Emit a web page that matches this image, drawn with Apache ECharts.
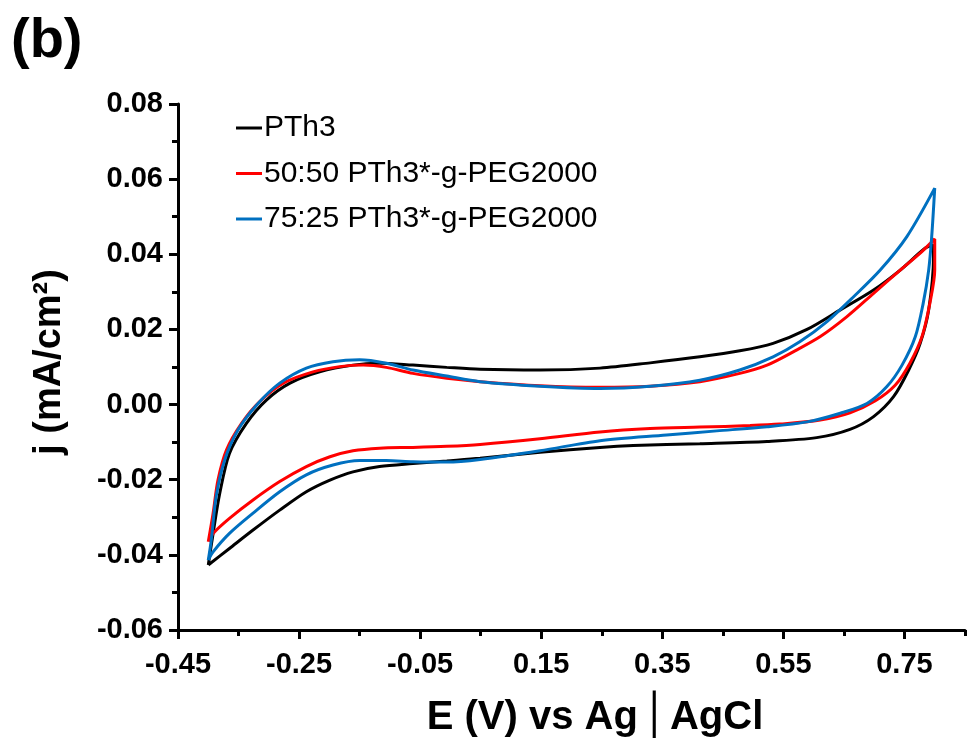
<!DOCTYPE html>
<html><head><meta charset="utf-8">
<script src="https://cdn.jsdelivr.net/npm/echarts@6/dist/echarts.min.js"></script>
<style>html,body{margin:0;padding:0;background:#fff}#c{width:969px;height:753px}</style>
</head><body><div id="c"></div>
<script>
// Axis ticks
const xTicksMajor = [-0.45, -0.25, -0.05, 0.15, 0.35, 0.55, 0.75];
const xTicksMinor = [-0.35, -0.15, 0.05, 0.25, 0.45, 0.65, 0.85];
const seriesNames = ['PTh3', '50:50 PTh3*-g-PEG2000', '75:25 PTh3*-g-PEG2000'];

// PTh3 (black): forward scan then reverse scan
const pth3E = [-0.400,-0.392,-0.381,-0.365,-0.337,-0.304,-0.265,-0.216,-0.161,-0.117,-0.062,-0.006,0.049,0.148,0.247,0.330,0.412,0.478,0.533,0.589,0.644,0.699,0.743,0.784,0.797,
  0.798,0.790,0.776,0.757,0.732,0.699,0.660,0.605,0.523,0.412,0.302,0.247,0.148,0.049,-0.006,-0.062,-0.117,-0.161,-0.199,-0.238,-0.282,-0.326,-0.365,-0.400];
const pth3J = [-0.0427,-0.0343,-0.0236,-0.0130,-0.0050,0.0012,0.0057,0.0087,0.0105,0.0110,0.0105,0.0099,0.0094,0.0092,0.0097,0.0111,0.0127,0.0143,0.0163,0.0200,0.0252,0.0305,0.0358,0.0416,0.0425,
  0.0394,0.0252,0.0163,0.0092,0.0021,-0.0032,-0.0066,-0.0088,-0.0098,-0.0104,-0.0109,-0.0114,-0.0127,-0.0143,-0.0150,-0.0157,-0.0165,-0.0179,-0.0201,-0.0232,-0.0281,-0.0334,-0.0383,-0.0427];

// 50:50 (red)
const p5050E = [-0.400,-0.392,-0.384,-0.370,-0.345,-0.315,-0.276,-0.227,-0.183,-0.144,-0.106,-0.062,-0.006,0.049,0.148,0.247,0.330,0.412,0.478,0.523,0.567,0.611,0.655,0.699,0.743,0.776,0.800,
  0.800,0.792,0.779,0.759,0.735,0.702,0.660,0.611,0.544,0.495,0.412,0.330,0.247,0.148,0.049,-0.006,-0.062,-0.117,-0.161,-0.199,-0.238,-0.282,-0.326,-0.365,-0.392,-0.400];
const p5050J = [-0.0365,-0.0289,-0.0201,-0.0121,-0.0050,0.0008,0.0057,0.0087,0.0101,0.0105,0.0099,0.0083,0.0070,0.0061,0.0050,0.0046,0.0049,0.0061,0.0083,0.0105,0.0141,0.0181,0.0234,0.0296,0.0358,0.0403,0.0441,
  0.0358,0.0270,0.0181,0.0110,0.0052,0.0010,-0.0022,-0.0041,-0.0052,-0.0056,-0.0060,-0.0064,-0.0073,-0.0091,-0.0106,-0.0111,-0.0114,-0.0116,-0.0123,-0.0139,-0.0165,-0.0205,-0.0254,-0.0303,-0.0343,-0.0365];

// 75:25 (blue)
const p7525E = [-0.400,-0.395,-0.387,-0.373,-0.351,-0.320,-0.282,-0.238,-0.194,-0.150,-0.106,-0.062,-0.006,0.049,0.148,0.247,0.330,0.412,0.478,0.533,0.577,0.622,0.666,0.710,0.754,0.800,
  0.795,0.790,0.781,0.768,0.746,0.721,0.688,0.644,0.589,0.523,0.440,0.357,0.247,0.148,0.049,-0.006,-0.062,-0.106,-0.150,-0.194,-0.238,-0.282,-0.326,-0.365,-0.392,-0.400];
const p7525J = [-0.0414,-0.0360,-0.0245,-0.0148,-0.0068,-0.0001,0.0057,0.0097,0.0114,0.0119,0.0110,0.0092,0.0076,0.0061,0.0049,0.0043,0.0049,0.0065,0.0092,0.0127,0.0167,0.0221,0.0287,0.0358,0.0447,0.0576,
  0.0447,0.0358,0.0270,0.0181,0.0105,0.0048,0.0003,-0.0023,-0.0046,-0.0059,-0.0070,-0.0081,-0.0096,-0.0123,-0.0146,-0.0153,-0.0152,-0.0149,-0.0149,-0.0161,-0.0187,-0.0232,-0.0289,-0.0343,-0.0392,-0.0414];

const zip = (E, J) => E.map((e, i) => [e, J[i]]);
const FONT = '"Liberation Sans", Arial, sans-serif';
const colors = ['#000000', '#FF0000', '#0070C0'];
const dataSets = [zip(pth3E, pth3J), zip(p5050E, p5050J), zip(p7525E, p7525J)];

const chart = echarts.init(document.getElementById('c'), null, {renderer: 'canvas'});
const option = {
  animation: false,
  backgroundColor: '#fff',
  grid: {left: 178, right: 4, top: 104, bottom: 123},
  xAxis: [{
    type: 'value', min: -0.45, max: 0.85,
    axisLine: {show: true, onZero: false, lineStyle: {color: '#000', width: 3}},
    axisTick: {show: true, customValues: xTicksMajor, length: 9, lineStyle: {color: '#000', width: 3}},
    axisLabel: {customValues: xTicksMajor, formatter: v => v.toFixed(2), fontSize: 29, fontWeight: 'bold', color: '#000', fontFamily: FONT, margin: 20},
    splitLine: {show: false}
  }, {
    type: 'value', min: -0.45, max: 0.85, position: 'bottom', offset: 0,
    axisLine: {show: false, onZero: false},
    axisTick: {show: true, customValues: xTicksMinor, length: 6, lineStyle: {color: '#000', width: 3}},
    axisLabel: {show: false},
    splitLine: {show: false}
  }],
  yAxis: {
    type: 'value', min: -0.06, max: 0.08, interval: 0.02,
    axisLine: {show: true, onZero: false, lineStyle: {color: '#000', width: 3}},
    axisTick: {show: true, length: 9, lineStyle: {color: '#000', width: 3}},
    minorTick: {show: true, splitNumber: 2, length: 6, lineStyle: {color: '#000', width: 3}},
    axisLabel: {formatter: v => v.toFixed(2), fontSize: 29, fontWeight: 'bold', color: '#000', fontFamily: FONT, margin: 15},
    splitLine: {show: false}, minorSplitLine: {show: false}
  },
  legend: {
    orient: 'vertical', left: 231, top: 108,
    icon: 'rect', itemWidth: 26, itemHeight: 3, itemGap: 15.5,
    textStyle: {fontSize: 30, fontFamily: FONT, color: '#000', lineHeight: 30, padding: [0, 0, 0, -3]},
    data: seriesNames
  },
  series: seriesNames.map((n, i) => ({
    type: 'line', name: n, data: dataSets[i],
    symbol: 'none', showSymbol: false, smooth: 0.3,
    lineStyle: {color: colors[i], width: 3}, itemStyle: {color: colors[i]},
    z: 2 + i
  })),
  graphic: [
    {type: 'text', x: 11, y: 42, style: {text: '(b)', font: 'bold 56px "Liberation Sans", Arial', fill: '#000', verticalAlign: 'middle'}},
    {type: 'text', x: 50, y: 362, rotation: Math.PI / 2, style: {text: 'j (mA/cm²)', font: 'bold 38px "Liberation Sans", Arial', fill: '#000', align: 'center', verticalAlign: 'middle'}},
    {type: 'text', x: 595, y: 718, style: {
      text: '{a|E (V) vs Ag}{b|│}{a|AgCl}', align: 'center', verticalAlign: 'middle',
      rich: {
        a: {font: 'bold 40px "Liberation Sans", Arial', fill: '#000'},
        b: {font: '40px "DejaVu Sans"', fill: '#000', padding: [0, 4]}
      }
    }}
  ]
};
chart.setOption(option);
</script>
</body></html>
